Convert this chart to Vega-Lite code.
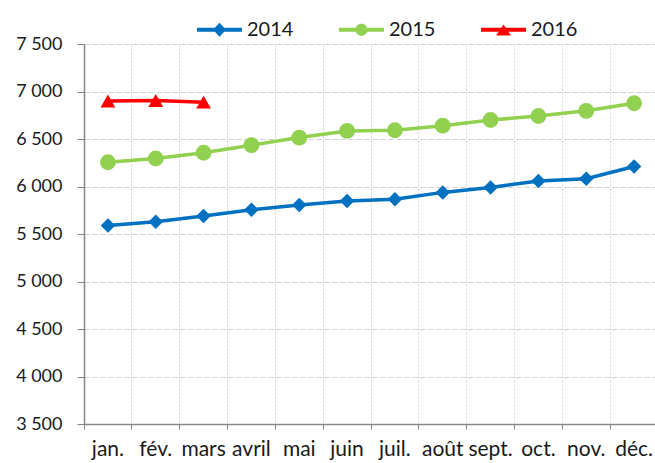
{
  "$schema": "https://vega.github.io/schema/vega-lite/v6.json",
  "width": 574,
  "height": 380,
  "autosize": {"type": "none"},
  "padding": {"left": 84, "top": 44, "right": 0, "bottom": 39},
  "background": "white",
  "config": {
    "locale": {"number": {"decimal": ",", "thousands": " ", "grouping": [3], "currency": ["", " €"]}},
    "view": {"stroke": null},
    "font": "Lato"
  },
  "data": {"values": [
    {"month": "jan.", "year": "2014", "value": 5590},
    {"month": "fév.", "year": "2014", "value": 5630},
    {"month": "mars", "year": "2014", "value": 5690},
    {"month": "avril", "year": "2014", "value": 5755},
    {"month": "mai", "year": "2014", "value": 5805},
    {"month": "juin", "year": "2014", "value": 5848},
    {"month": "juil.", "year": "2014", "value": 5866},
    {"month": "août", "year": "2014", "value": 5938},
    {"month": "sept.", "year": "2014", "value": 5990},
    {"month": "oct.", "year": "2014", "value": 6058},
    {"month": "nov.", "year": "2014", "value": 6082},
    {"month": "déc.", "year": "2014", "value": 6210},
    {"month": "jan.", "year": "2015", "value": 6255},
    {"month": "fév.", "year": "2015", "value": 6295},
    {"month": "mars", "year": "2015", "value": 6355},
    {"month": "avril", "year": "2015", "value": 6435},
    {"month": "mai", "year": "2015", "value": 6515},
    {"month": "juin", "year": "2015", "value": 6585},
    {"month": "juil.", "year": "2015", "value": 6592},
    {"month": "août", "year": "2015", "value": 6640},
    {"month": "sept.", "year": "2015", "value": 6700},
    {"month": "oct.", "year": "2015", "value": 6742},
    {"month": "nov.", "year": "2015", "value": 6797},
    {"month": "déc.", "year": "2015", "value": 6876},
    {"month": "jan.", "year": "2016", "value": 6900},
    {"month": "fév.", "year": "2016", "value": 6905},
    {"month": "mars", "year": "2016", "value": 6888}
  ]},
  "encoding": {
    "x": {
      "field": "month", "type": "nominal",
      "sort": ["jan.", "fév.", "mars", "avril", "mai", "juin", "juil.", "août", "sept.", "oct.", "nov.", "déc."],
      "scale": {"type": "band", "paddingInner": 0, "paddingOuter": 0},
      "axis": {
        "title": null, "labelAngle": 0, "bandPosition": 0,
        "labelFontSize": 21, "labelColor": "#1a1a1a", "labelPadding": 9,
        "tickSize": 5, "tickColor": "#868686", "domainColor": "#868686", "domainWidth": 1.5,
        "grid": true, "gridColor": "#D0D0D0", "gridDash": [2, 2], "gridWidth": 1
      }
    },
    "y": {
      "field": "value", "type": "quantitative",
      "scale": {"domain": [3500, 7500], "nice": false, "zero": false},
      "axis": {
        "title": null, "values": [3500, 4000, 4500, 5000, 5500, 6000, 6500, 7000, 7500], "format": ",d",
        "labelFontSize": 18, "labelColor": "#1a1a1a", "labelPadding": 15,
        "tickSize": 7, "tickColor": "#868686", "domainColor": "#868686", "domainWidth": 1.5,
        "grid": true, "gridColor": "#CFCFCF", "gridDash": [5, 3], "gridWidth": 1
      }
    }
  },
  "layer": [
    {
      "transform": [{"filter": "datum.year === '2014'"}],
      "mark": {"type": "line", "strokeWidth": 3.5, "color": "#0070C0"},
      "encoding": {}
    },
    {
      "transform": [{"filter": "datum.year === '2015'"}],
      "mark": {"type": "line", "strokeWidth": 3.5, "color": "#92D050"},
      "encoding": {}
    },
    {
      "transform": [{"filter": "datum.year === '2016'"}],
      "mark": {"type": "line", "strokeWidth": 3.5, "color": "#FF0000"},
      "encoding": {}
    },
    {
      "transform": [{"filter": "datum.year === '2014'"}],
      "mark": {"type": "point", "filled": true, "opacity": 1, "shape": "diamond", "size": 210, "color": "#0070C0"}
    },
    {
      "transform": [{"filter": "datum.year === '2015'"}],
      "mark": {"type": "point", "filled": true, "opacity": 1, "shape": "circle", "size": 250, "color": "#92D050"}
    },
    {
      "transform": [{"filter": "datum.year === '2016'"}],
      "mark": {"type": "point", "filled": true, "opacity": 1, "shape": "triangle-up", "size": 220, "color": "#FF0000"}
    },
    {
      "transform": [{"filter": "false"}],
      "mark": {"type": "point", "filled": true, "opacity": 1, "size": 2025},
      "encoding": {
        "color": {
          "field": "year", "type": "nominal",
          "scale": {"domain": ["2014", "2015", "2016"], "range": ["#0070C0", "#92D050", "#FF0000"]},
          "legend": {"orient": "none", "legendX": 112, "legendY": -38, "direction": "horizontal", "title": null, "labelFontSize": 20, "labelColor": "#1a1a1a", "columnPadding": 44, "labelOffset": 4, "symbolSize": 2025}
        },
        "shape": {
          "field": "year", "type": "nominal",
          "scale": {"domain": ["2014", "2015", "2016"], "range": [
            "M-1,-0.085L1,-0.085L1,0.085L-1,0.085ZM0,-0.31L0.29,0L0,0.31L-0.29,0Z",
            "M-1,-0.085L1,-0.085L1,0.085L-1,0.085ZM-0.27,0A0.27,0.27,0,1,1,0.27,0A0.27,0.27,0,1,1,-0.27,0Z",
            "M-1,-0.085L1,-0.085L1,0.085L-1,0.085ZM0,-0.23L0.33,0.26L-0.33,0.26Z"
          ]},
          "legend": {"orient": "none", "legendX": 112, "legendY": -38, "direction": "horizontal", "title": null, "labelFontSize": 20, "labelColor": "#1a1a1a", "columnPadding": 44, "labelOffset": 4, "symbolSize": 2025}
        }
      }
    }
  ]
}
